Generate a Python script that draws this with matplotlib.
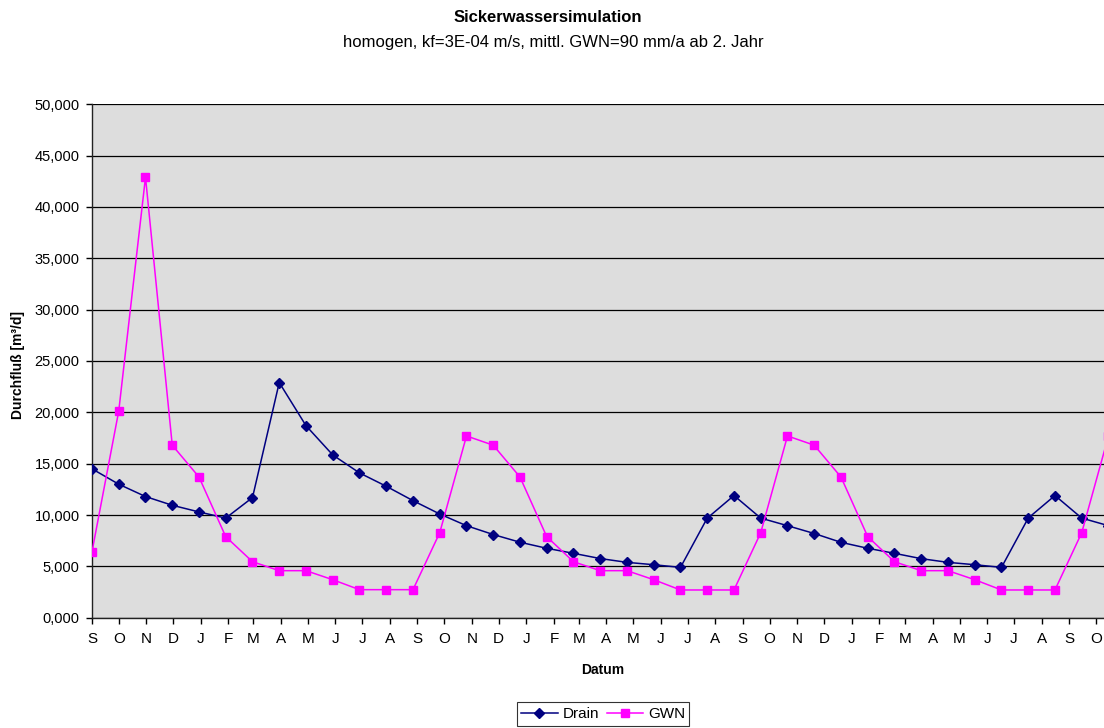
import numpy as np
import pandas as pd
import matplotlib
matplotlib.use("Agg")
import matplotlib.pyplot as plt
import matplotlib.dates as mdates
from matplotlib.ticker import FuncFormatter

plt.rcParams['font.family'] = ['Liberation Sans', 'DejaVu Sans']

# Zeitachse: Simulation in 30-Tage-Schritten ab 1. September
startdatum = pd.Timestamp('2001-09-01')
zeitschritt_tage = 30
anzahl_schritte = 39

# Durchfluss [m³/d] je Zeitschritt
drain = [14.5, 13.0, 11.8, 10.95, 10.3, 9.7, 11.7, 22.9, 18.7, 15.85,
         14.1, 12.8, 11.4, 10.1, 8.96, 8.1, 7.35, 6.76, 6.27, 5.76,
         5.39, 5.16, 4.9, 9.7, 11.9, 9.7, 8.96, 8.2, 7.34, 6.76,
         6.27, 5.75, 5.39, 5.16, 4.9, 9.7, 11.9, 9.7, 8.96]
gwn = [6.43, 20.13, 42.9, 16.8, 13.7, 7.89, 5.45, 4.58, 4.58, 3.7,
       2.73, 2.73, 2.73, 8.28, 17.7, 16.8, 13.7, 7.89, 5.45, 4.58,
       4.58, 3.7, 2.7, 2.7, 2.7, 8.28, 17.7, 16.8, 13.7, 7.89,
       5.45, 4.58, 4.58, 3.7, 2.7, 2.7, 2.7, 8.28, 17.7]

monats_initialen = ['J', 'F', 'M', 'A', 'M', 'J', 'J', 'A', 'S', 'O', 'N', 'D']

datum = startdatum + pd.to_timedelta(np.arange(anzahl_schritte) * zeitschritt_tage, unit='D')

fig = plt.figure(figsize=(11.04, 7.28), dpi=100)

# Plotbereich reicht wie im Original etwas über den rechten Rand hinaus
x_ende = pd.Timestamp('2004-10-31')
px_pro_tag = (1096 - 92) / (pd.Timestamp('2004-10-01') - startdatum).days
breite_px = (x_ende - startdatum).days * px_pro_tag
ax = fig.add_axes([92 / 1104, (728 - 617.7) / 728, breite_px / 1104, (617.7 - 104.3) / 728])

ax.set_facecolor('#DDDDDD')
ax.plot(datum, drain, color='#000080', lw=1.1, marker='D', markersize=4.6,
        label='Drain', zorder=3)
ax.plot(datum, gwn, color='#FF00FF', lw=1.1, marker='s', markersize=5.2,
        label='GWN', zorder=3)

ax.set_xlim(startdatum, x_ende)
ax.set_ylim(0, 50)
ax.set_yticks(np.arange(0, 50.1, 5))
ax.yaxis.set_major_formatter(FuncFormatter(lambda v, p: f"{v:.3f}".replace('.', ',')))

ax.xaxis.set_major_locator(mdates.MonthLocator())
ax.xaxis.set_major_formatter(FuncFormatter(lambda v, p: monats_initialen[mdates.num2date(v).month - 1]))

ax.grid(axis='y', color='black', lw=0.9, zorder=1)
ax.set_axisbelow(True)
for s in ['top', 'right']:
    ax.spines[s].set_visible(False)
for s in ['left', 'bottom']:
    ax.spines[s].set_color('#222222')
    ax.spines[s].set_linewidth(1.0)

ax.tick_params(axis='y', direction='out', length=4, width=1, labelsize=10.5, pad=5)
ax.tick_params(axis='x', direction='out', length=4, width=1, labelsize=11, pad=6)

fig.text(18 / 1104, 1 - 365 / 728, 'Durchfluß [m³/d]', rotation=90, ha='center', va='center',
         fontsize=10, fontweight='bold')
fig.text(603 / 1104, 1 - 670 / 728, 'Datum', ha='center', va='center', fontsize=10, fontweight='bold')

fig.text(548 / 1104, 1 - 18 / 728, 'Sickerwassersimulation', ha='center', va='center',
         fontsize=12, fontweight='bold')
fig.text(553 / 1104, 1 - 42 / 728, 'homogen, kf=3E-04 m/s, mittl. GWN=90 mm/a ab 2. Jahr',
         ha='center', va='center', fontsize=12)

leg = fig.legend(loc='center', bbox_to_anchor=(603 / 1104, 1 - 714 / 728), ncol=2,
                 fontsize=11, frameon=True, fancybox=False, handlelength=2.4,
                 handletextpad=0.3, columnspacing=0.5, borderpad=0.3)
leg.get_frame().set_edgecolor('black')
leg.get_frame().set_linewidth(0.8)

fig.savefig('out.png', dpi=100)
